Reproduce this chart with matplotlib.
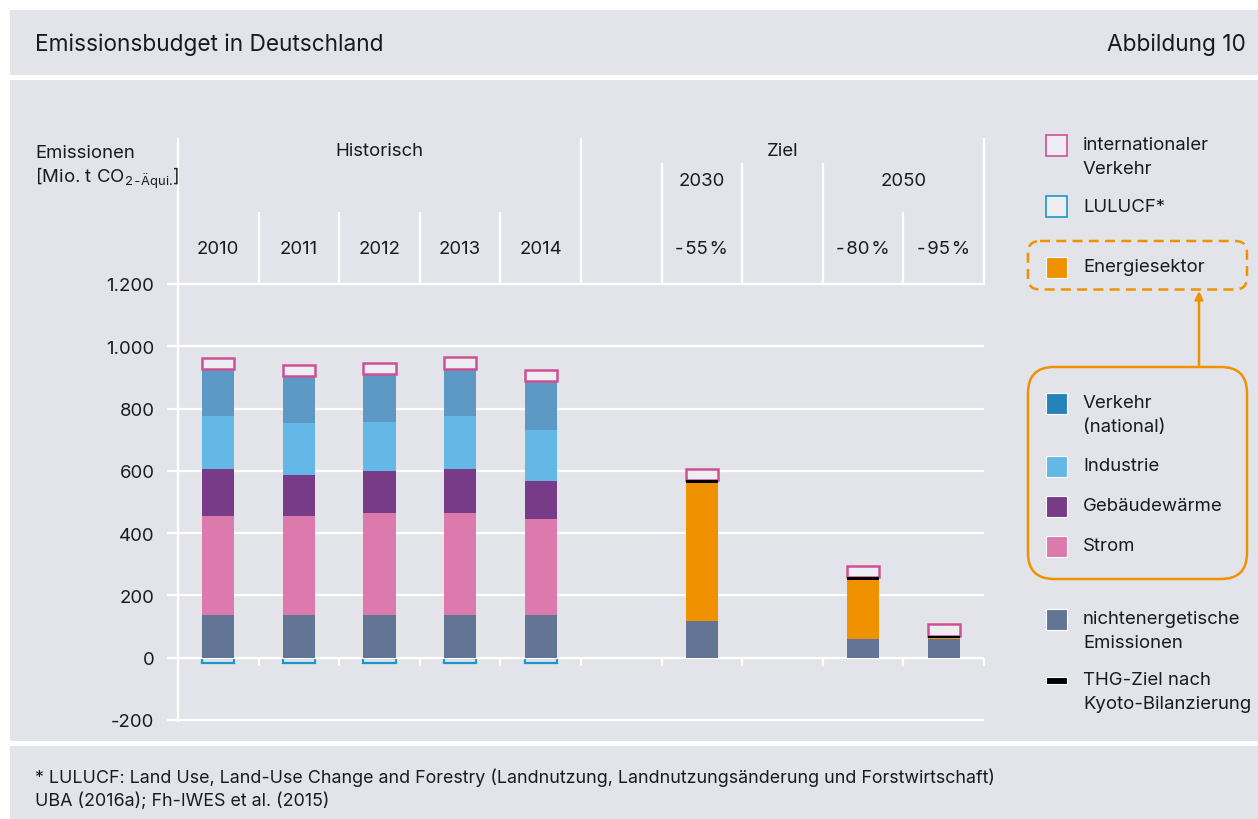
import numpy as np
import matplotlib
matplotlib.use('Agg')
import matplotlib.pyplot as plt
from matplotlib.patches import Rectangle, FancyBboxPatch
from matplotlib.lines import Line2D
from matplotlib.transforms import blended_transform_factory

plt.rcParams['font.family'] = ['Inter', 'DejaVu Sans']
plt.rcParams['mathtext.fontset'] = 'custom'
plt.rcParams['mathtext.rm'] = 'Inter'

# ---- data (Mio. t CO2-Aequi.) ----
years = ['2010', '2011', '2012', '2013', '2014']
hist_nonenergy = np.array([138, 138, 138, 138, 138])
hist_strom = np.array([317, 317, 326, 326, 308])
hist_gebaeude = np.array([152, 131, 134, 143, 122])
hist_industrie = np.array([168, 168, 159, 168, 164])
hist_verkehr = np.array([152, 151, 153, 152, 156])
hist_int = np.array([36, 35, 35, 40, 35])
hist_lulucf = np.array([-18, -18, -18, -18, -18])

targets = ['-\u200a55\u200a%', '-\u200a80\u200a%', '-\u200a95\u200a%']
target_nonenergy = np.array([118, 59, 59])
target_thg = np.array([562, 250, 62])
target_int = np.array([35, 37, 36])

yticks = [-200, 0, 200, 400, 600, 800, 1000, 1200]
ytick_labels = ['-200', '0', '200', '400', '600', '800', '1.000', '1.200']

legend_labels = ['internationaler\nVerkehr', 'LULUCF*', 'Energiesektor',
                 'Verkehr\n(national)', 'Industrie', 'Gebäudewärme', 'Strom',
                 'nichtenergetische\nEmissionen', 'THG-Ziel nach\nKyoto-Bilanzierung']

# column slots in the 10-column grid
hist_cols = [0, 1, 2, 3, 4]
target_cols = [6, 8, 9]

# ---- colours ----
BG = '#e3e4e9'
TXT = '#1b1b1f'
C_NE = '#637595'
C_ST = '#dc7aae'
C_GW = '#773b88'
C_IN = '#63b8e8'
C_VK = '#5d99c5'
C_VK_LEG = '#2383b9'
C_OR = '#f09200'
C_INT = '#cf4f96'
C_LU = '#1a97cf'
C_BOX = '#eeedf2'

FS = 13.4

W, H = 1258, 820
fig = plt.figure(figsize=(W/100, H/100), dpi=100)
fig.patch.set_facecolor('white')

bg = fig.add_axes([0, 0, 1, 1], zorder=0)
bg.set_xlim(0, W)
bg.set_ylim(H, 0)
bg.axis('off')
bg.add_patch(Rectangle((10, 11), W-10, H-11, color=BG, lw=0))
bg.add_patch(Rectangle((10, 75.5), W-10, 5, color='white', lw=0))
bg.add_patch(Rectangle((10, 742), W-10, 5, color='white', lw=0))

bg.text(35, 45, 'Emissionsbudget in Deutschland', fontsize=16.3, color=TXT, va='center')
bg.text(1246, 45, 'Abbildung 10', fontsize=16.3, color=TXT, va='center', ha='right')
bg.text(35, 778, '* LULUCF: Land Use, Land-Use Change and Forestry (Landnutzung, '
        'Landnutzungsänderung und Forstwirtschaft)', fontsize=12.9, color=TXT, va='center')
bg.text(35, 801, 'UBA (2016a); Fh-IWES et al. (2015)', fontsize=12.9, color=TXT, va='center')
bg.text(35, 153, 'Emissionen', fontsize=FS, color=TXT, va='center')
bg.text(35, 178, '[Mio. t CO$_{\\mathrm{2\\,\u2010\\,Äqui.}}\\!$]', fontsize=FS, color=TXT, va='center')

# ---- main axes ----
ax = fig.add_axes([178/W, (H-721)/H, (984-178)/W, (721-285)/H], zorder=1)
ax.patch.set_alpha(0)
for s in ax.spines.values():
    s.set_visible(False)
ax.set_xticks([])
ax.set_yticks(yticks, ytick_labels)
ax.tick_params(axis='y', length=8, width=1.6, color='white', pad=9,
               labelsize=FS, labelcolor=TXT)
ax.hlines(yticks, 0, 10, color='white', lw=1.6, zorder=0.5, clip_on=False)
ax.vlines(range(1, 11), -25, 0, color='white', lw=1.6, zorder=0.5, clip_on=False)

hdr = blended_transform_factory(ax.transData, bg.transData)

def hline_v(x, y0, y1):
    bg.add_artist(Line2D([x, x], [y0, y1], transform=hdr, color='white', lw=1.6))

hline_v(0, 140, 722)
hline_v(5, 140, 285)
hline_v(10, 140, 285)
for c in [1, 2, 3, 4, 9]:
    hline_v(c, 214, 285)
for c in [6, 7, 8]:
    hline_v(c, 165, 285)

kw = dict(transform=hdr, ha='center', va='center', fontsize=FS, color=TXT)
bg.text(2.5, 152, 'Historisch', **kw)
bg.text(7.5, 152, 'Ziel', **kw)
bg.text(6.5, 182, '2030', **kw)
bg.text(9, 182, '2050', **kw)
for c, y in zip(hist_cols, years):
    bg.text(c + 0.5, 250, y, **kw)
for c, t in zip(target_cols, targets):
    bg.text(c + 0.5, 250, t, **kw)

# ---- bars ----
bw = 0.4
hx = np.array(hist_cols) + 0.5
bottom = np.zeros(len(hx))
for vals, col in [(hist_nonenergy, C_NE), (hist_strom, C_ST), (hist_gebaeude, C_GW),
                  (hist_industrie, C_IN), (hist_verkehr, C_VK)]:
    ax.bar(hx, vals, bw, bottom=bottom, color=col, zorder=2, lw=0)
    bottom = bottom + vals
ax.bar(hx, hist_int, bw, bottom=bottom, facecolor=C_BOX, edgecolor=C_INT, lw=1.8, zorder=2)
ax.bar(hx, hist_lulucf, bw, facecolor='none', edgecolor=C_LU, lw=1.6, zorder=0.4)

tx = np.array(target_cols) + 0.5
thg_line = 9
ax.bar(tx, target_nonenergy, bw, color=C_NE, zorder=2, lw=0)
ax.bar(tx, target_thg - target_nonenergy, bw, bottom=target_nonenergy, color=C_OR, zorder=2, lw=0)
ax.bar(tx, thg_line, bw, bottom=target_thg, color='black', zorder=3, lw=0)
ax.bar(tx, target_int, bw, bottom=target_thg + thg_line, facecolor=C_BOX,
       edgecolor=C_INT, lw=1.8, zorder=2)

ax.set_xlim(0, 10)
ax.set_ylim(-200, 1200)

# ---- legend ----
sw_x, sw = 1046, 21
rows = [146, 207, 268, 404, 467, 507, 547, 620, 681]
swatches = [dict(facecolor=C_BOX, edgecolor=C_INT, lw=1.2),
            dict(facecolor=C_BOX, edgecolor=C_LU, lw=1.2),
            dict(facecolor=C_OR, edgecolor='white', lw=0.8),
            dict(facecolor=C_VK_LEG, edgecolor='white', lw=0.8),
            dict(facecolor=C_IN, edgecolor='white', lw=0.8),
            dict(facecolor=C_GW, edgecolor='white', lw=0.8),
            dict(facecolor=C_ST, edgecolor='white', lw=0.8),
            dict(facecolor=C_NE, edgecolor='white', lw=0.8),
            dict(facecolor='black', edgecolor='white', lw=0.8)]
for lab, y, st in zip(legend_labels, rows, swatches):
    h = 7 if st['facecolor'] == 'black' else sw
    bg.add_patch(Rectangle((sw_x, y - h/2), sw, h, **st))
    for i, line in enumerate(lab.split('\n')):
        bg.text(1083, y + i*23.5, line, fontsize=FS, color=TXT, va='center')

bg.add_patch(FancyBboxPatch((1028, 242), 219, 48.5, boxstyle='round,pad=0,rounding_size=12',
                            fill=False, ec=C_OR, lw=1.8, ls=(0, (4, 2.5))))
bg.add_patch(FancyBboxPatch((1028, 368), 219, 212, boxstyle='round,pad=0,rounding_size=26',
                            fill=False, ec=C_OR, lw=1.8))
bg.annotate('', xy=(1199, 292), xytext=(1199, 368),
            arrowprops=dict(arrowstyle='-|>', color=C_OR, lw=1.8, mutation_scale=12,
                            shrinkA=0, shrinkB=0))

fig.savefig('out.png', dpi=100, facecolor=fig.get_facecolor())
